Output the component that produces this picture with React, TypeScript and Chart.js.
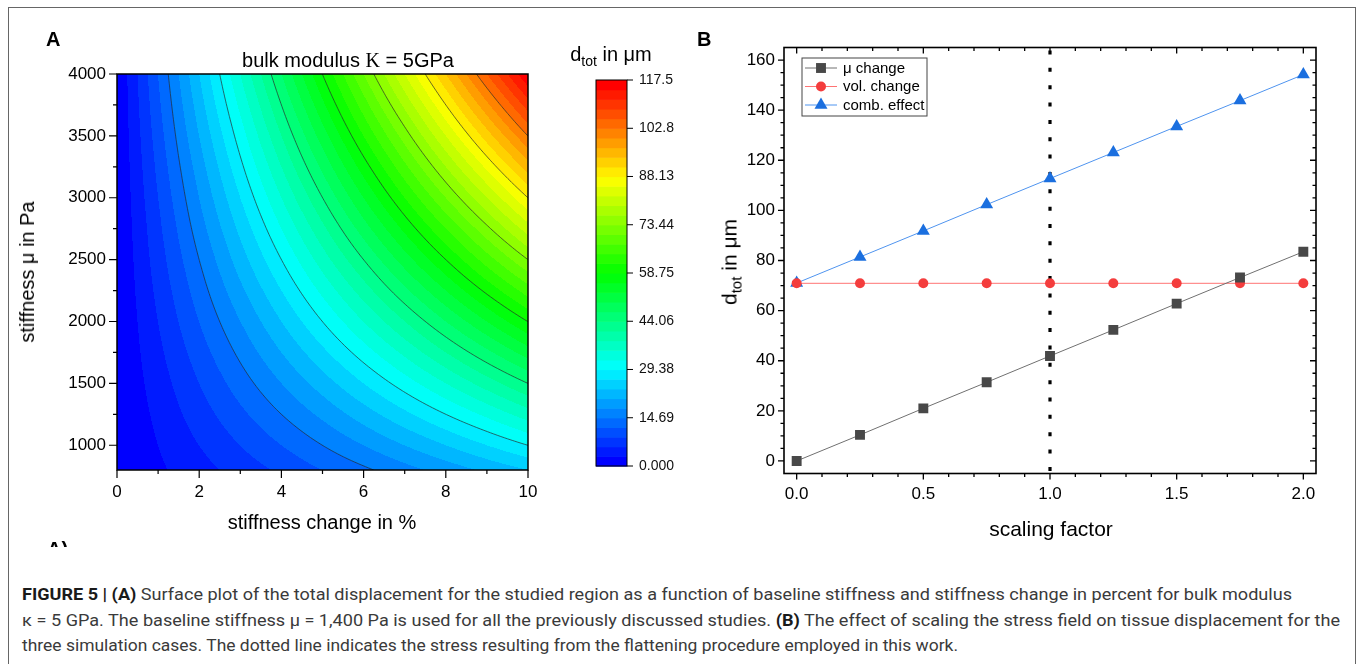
import React, { useEffect, useRef } from "react";
import { Chart, registerables } from "chart.js";

Chart.register(...registerables);

const FONT = "'Liberation Sans', Arial, Helvetica, sans-serif";
Chart.defaults.font.family = FONT;
Chart.defaults.color = "#000";

// ---------------- Panel A: d_tot (µm) ----------------
const stiffnessChangePct = [0, 1, 2, 3, 4, 5, 6, 7, 8, 9, 10];
const baselineStiffnessPa = [800, 1200, 1600, 2000, 2400, 2800, 3200, 3600, 4000];
const dTotAt800 = [0, 2.4, 4.7, 7.1, 9.4, 11.8, 14.1, 16.5, 18.8, 21.2, 23.5];
const dTotAt1200 = [0, 3.5, 7.1, 10.6, 14.1, 17.6, 21.2, 24.7, 28.2, 31.7, 35.3];
const dTotAt1600 = [0, 4.7, 9.4, 14.1, 18.8, 23.5, 28.2, 32.9, 37.6, 42.3, 47.0];
const dTotAt2000 = [0, 5.9, 11.8, 17.6, 23.5, 29.4, 35.3, 41.1, 47.0, 52.9, 58.8];
const dTotAt2400 = [0, 7.1, 14.1, 21.2, 28.2, 35.3, 42.3, 49.4, 56.4, 63.5, 70.5];
const dTotAt2800 = [0, 8.2, 16.5, 24.7, 32.9, 41.1, 49.4, 57.6, 65.8, 74.0, 82.3];
const dTotAt3200 = [0, 9.4, 18.8, 28.2, 37.6, 47.0, 56.4, 65.8, 75.2, 84.6, 94.0];
const dTotAt3600 = [0, 10.6, 21.2, 31.7, 42.3, 52.9, 63.5, 74.0, 84.6, 95.2, 105.8];
const dTotAt4000 = [0, 11.8, 23.5, 35.3, 47.0, 58.8, 70.5, 82.3, 94.0, 105.8, 117.5];
const dTotGrid = [dTotAt800, dTotAt1200, dTotAt1600, dTotAt2000, dTotAt2400, dTotAt2800, dTotAt3200, dTotAt3600, dTotAt4000];

const contourLevels = [14.69, 29.38, 44.06, 58.75, 73.44, 88.13, 102.8];
const colorMin = 0;
const colorMax = 117.5;
const colorBands = 40;
const colorbarTicks = [0, 14.69, 29.38, 44.06, 58.75, 73.44, 88.13, 102.8, 117.5];
const colorbarTickLabels = ["0.000", "14.69", "29.38", "44.06", "58.75", "73.44", "88.13", "102.8", "117.5"];

const aXTicks = [0, 2, 4, 6, 8, 10];
const aXMinorTicks = [1, 3, 5, 7, 9];
const aYTicks = [1000, 1500, 2000, 2500, 3000, 3500, 4000];
const aYMinorTicks = [1250, 1750, 2250, 2750, 3250, 3750];

// ---------------- Panel B ----------------
const scalingFactor = [0, 0.25, 0.5, 0.75, 1.0, 1.25, 1.5, 1.75, 2.0];
const muChange = [0, 10.4, 21.0, 31.4, 41.9, 52.3, 62.8, 73.2, 83.5];
const volChange = [70.9, 70.9, 70.9, 70.9, 70.9, 70.9, 70.9, 70.9, 70.9];
const combEffect = [71.0, 81.4, 91.8, 102.3, 112.7, 123.1, 133.5, 143.8, 154.2];
const bXTicks = [0, 0.5, 1.0, 1.5, 2.0];
const bXTickLabels = ["0.0", "0.5", "1.0", "1.5", "2.0"];
const bYTicks = [0, 20, 40, 60, 80, 100, 120, 140, 160];
const flatteningScale = 1.0;

// ---------------- helpers ----------------
function hueToRgb(h: number): [number, number, number] {
  const hp = h / 60;
  const x = 1 - Math.abs((hp % 2) - 1);
  let r = 0, g = 0, b = 0;
  if (hp < 1) { r = 1; g = x; }
  else if (hp < 2) { r = x; g = 1; }
  else if (hp < 3) { g = 1; b = x; }
  else if (hp < 4) { g = x; b = 1; }
  else if (hp < 5) { r = x; b = 1; }
  else { r = 1; b = x; }
  return [Math.round(r * 255), Math.round(g * 255), Math.round(b * 255)];
}
const palette = Array.from({ length: colorBands }, (_, k) => hueToRgb(240 * (1 - k / (colorBands - 1))));
const bandStep = (colorMax - colorMin) / colorBands;
function bandIndex(v: number) {
  return Math.max(0, Math.min(colorBands - 1, Math.floor((v - colorMin) / bandStep)));
}

function locate(arr: number[], v: number) {
  let i = 0;
  while (i < arr.length - 2 && v > arr[i + 1]) i++;
  const t = (v - arr[i]) / (arr[i + 1] - arr[i]);
  return [i, Math.max(0, Math.min(1, t))] as [number, number];
}
function sampleGrid(s: number, mu: number) {
  const [i, tx] = locate(stiffnessChangePct, s);
  const [j, ty] = locate(baselineStiffnessPa, mu);
  const a = dTotGrid[j][i], b = dTotGrid[j][i + 1], c = dTotGrid[j + 1][i], d = dTotGrid[j + 1][i + 1];
  return (a * (1 - tx) + b * tx) * (1 - ty) + (c * (1 - tx) + d * tx) * ty;
}

const heatmapPlugin = {
  id: "heatmap",
  beforeDatasetsDraw(chart: any) {
    const { ctx, chartArea: ca, scales } = chart;
    const xs = scales.x, ys = scales.y;
    const w = Math.round(ca.right - ca.left), h = Math.round(ca.bottom - ca.top);
    const off = document.createElement("canvas");
    off.width = w; off.height = h;
    const octx = off.getContext("2d")!;
    const img = octx.createImageData(w, h);
    for (let py = 0; py < h; py++) {
      const mu = ys.getValueForPixel(ca.top + py + 0.5);
      for (let px = 0; px < w; px++) {
        const s = xs.getValueForPixel(ca.left + px + 0.5);
        const col = palette[bandIndex(sampleGrid(s, mu))];
        const o = (py * w + px) * 4;
        img.data[o] = col[0]; img.data[o + 1] = col[1]; img.data[o + 2] = col[2]; img.data[o + 3] = 255;
      }
    }
    octx.putImageData(img, 0, 0);
    ctx.save();
    ctx.drawImage(off, ca.left, ca.top, w, h);
    // contour lines (marching squares on a fine resampling of the grid)
    const NX = 121, NY = 121;
    const x0 = xs.min, x1 = xs.max, y0 = ys.min, y1 = ys.max;
    const sv: number[][] = [];
    const spx: number[] = [], spy: number[] = [];
    for (let i = 0; i <= NX; i++) spx.push(x0 + (x1 - x0) * i / NX);
    for (let j = 0; j <= NY; j++) spy.push(y0 + (y1 - y0) * j / NY);
    for (let j = 0; j <= NY; j++) { sv.push([]); for (let i = 0; i <= NX; i++) sv[j].push(sampleGrid(spx[i], spy[j])); }
    ctx.beginPath();
    ctx.rect(ca.left, ca.top, ca.right - ca.left, ca.bottom - ca.top);
    ctx.clip();
    ctx.strokeStyle = "rgba(40,40,40,0.85)";
    ctx.lineWidth = 0.8;
    ctx.lineJoin = "round";
    for (const L of contourLevels) {
      ctx.beginPath();
      for (let j = 0; j < NY; j++) {
        for (let i = 0; i < NX; i++) {
          const corners = [
            [spx[i], spy[j], sv[j][i]],
            [spx[i + 1], spy[j], sv[j][i + 1]],
            [spx[i + 1], spy[j + 1], sv[j + 1][i + 1]],
            [spx[i], spy[j + 1], sv[j + 1][i]],
          ];
          const pts: [number, number][] = [];
          for (let e = 0; e < 4; e++) {
            const A = corners[e], B = corners[(e + 1) % 4];
            if ((A[2] >= L) !== (B[2] >= L)) {
              const t = (L - A[2]) / (B[2] - A[2]);
              pts.push([xs.getPixelForValue(A[0] + (B[0] - A[0]) * t), ys.getPixelForValue(A[1] + (B[1] - A[1]) * t)]);
            }
          }
          if (pts.length >= 2) { ctx.moveTo(pts[0][0], pts[0][1]); ctx.lineTo(pts[1][0], pts[1][1]); }
          if (pts.length === 4) { ctx.moveTo(pts[2][0], pts[2][1]); ctx.lineTo(pts[3][0], pts[3][1]); }
        }
      }
      ctx.stroke();
    }
    ctx.restore();
  },
};

const frameA = {
  id: "frameA",
  afterDraw(chart: any) {
    const { ctx, chartArea: ca, scales } = chart;
    ctx.save();
    ctx.strokeStyle = "#000";
    ctx.lineWidth = 1.5;
    ctx.strokeRect(ca.left, ca.top, ca.right - ca.left, ca.bottom - ca.top);
    ctx.lineWidth = 1.2;
    ctx.beginPath();
    aYTicks.forEach((v) => { const y = scales.y.getPixelForValue(v); ctx.moveTo(ca.left - 8, y); ctx.lineTo(ca.left, y); });
    aYMinorTicks.forEach((v) => { const y = scales.y.getPixelForValue(v); ctx.moveTo(ca.left - 4, y); ctx.lineTo(ca.left, y); });
    aXTicks.forEach((v) => { const x = scales.x.getPixelForValue(v); ctx.moveTo(x, ca.bottom); ctx.lineTo(x, ca.bottom + 8); });
    aXMinorTicks.forEach((v) => { const x = scales.x.getPixelForValue(v); ctx.moveTo(x, ca.bottom); ctx.lineTo(x, ca.bottom + 4); });
    ctx.stroke();
    ctx.restore();
  },
};

const colorbarPlugin = {
  id: "colorbar",
  beforeDatasetsDraw(chart: any) {
    const { ctx, chartArea: ca, scales } = chart;
    const ys = scales.y;
    ctx.save();
    for (let k = 0; k < colorBands; k++) {
      const yb = ys.getPixelForValue(colorMin + k * bandStep);
      const yt = ys.getPixelForValue(colorMin + (k + 1) * bandStep);
      const c = palette[k];
      ctx.fillStyle = `rgb(${c[0]},${c[1]},${c[2]})`;
      ctx.fillRect(ca.left, yt, ca.right - ca.left, yb - yt + 0.6);
    }
    ctx.strokeStyle = "#000";
    ctx.lineWidth = 1;
    ctx.strokeRect(ca.left, ca.top, ca.right - ca.left, ca.bottom - ca.top);
    ctx.beginPath();
    colorbarTicks.forEach((v) => { const y = ys.getPixelForValue(v); ctx.moveTo(ca.right, y); ctx.lineTo(ca.right + 6, y); });
    ctx.stroke();
    ctx.restore();
  },
};

const bMinorY: number[] = [];
for (let v = 5; v < 165; v += 5) if (v % 20 !== 0) bMinorY.push(v);
const bMinorX: number[] = [];
for (let k = 1; k < 20; k++) if (k % 5 !== 0) bMinorX.push(k / 10);

const frameB = {
  id: "frameB",
  beforeDatasetsDraw(chart: any) {
    const { ctx, chartArea: ca, scales } = chart;
    const x = scales.x.getPixelForValue(flatteningScale);
    ctx.save();
    ctx.strokeStyle = "#000";
    ctx.lineWidth = 3.2;
    ctx.setLineDash([4, 13.35]);
    ctx.beginPath();
    ctx.moveTo(x, ca.top + 3);
    ctx.lineTo(x, ca.bottom);
    ctx.stroke();
    ctx.restore();
  },
  afterDraw(chart: any) {
    const { ctx, chartArea: ca, scales } = chart;
    ctx.save();
    ctx.strokeStyle = "#000";
    ctx.lineWidth = 1.6;
    ctx.strokeRect(ca.left, ca.top, ca.right - ca.left, ca.bottom - ca.top);
    ctx.lineWidth = 1.3;
    ctx.beginPath();
    bYTicks.forEach((v) => {
      const y = scales.y.getPixelForValue(v);
      ctx.moveTo(ca.left - 6, y); ctx.lineTo(ca.left, y);
      ctx.moveTo(ca.right - 6, y); ctx.lineTo(ca.right, y);
    });
    bMinorY.forEach((v) => {
      const y = scales.y.getPixelForValue(v);
      ctx.moveTo(ca.left - 3.5, y); ctx.lineTo(ca.left, y);
      ctx.moveTo(ca.right - 3.5, y); ctx.lineTo(ca.right, y);
    });
    bXTicks.forEach((v) => {
      const x = scales.x.getPixelForValue(v);
      ctx.moveTo(x, ca.bottom); ctx.lineTo(x, ca.bottom + 6);
      ctx.moveTo(x, ca.top); ctx.lineTo(x, ca.top + 6);
    });
    bMinorX.forEach((v) => {
      const x = scales.x.getPixelForValue(v);
      ctx.moveTo(x, ca.bottom); ctx.lineTo(x, ca.bottom + 3.5);
      ctx.moveTo(x, ca.top); ctx.lineTo(x, ca.top + 3.5);
    });
    ctx.stroke();

    // legend
    const bx = ca.left + 18, by = ca.top + 10.5, bw = 125, bh = 58;
    ctx.fillStyle = "#fff";
    ctx.fillRect(bx, by, bw, bh);
    ctx.strokeStyle = "#444";
    ctx.lineWidth = 1;
    ctx.strokeRect(bx, by, bw, bh);
    ctx.font = `15px ${FONT}`;
    ctx.textBaseline = "middle";
    chart.data.datasets.forEach((ds: any, i: number) => {
      const cy = by + 10 + i * 18.5;
      ctx.strokeStyle = ds.borderColor;
      ctx.lineWidth = 1;
      ctx.beginPath();
      ctx.moveTo(bx + 3, cy); ctx.lineTo(bx + 35, cy);
      ctx.stroke();
      const mx = bx + 19, r = ds.pointRadius;
      ctx.fillStyle = ds.pointBackgroundColor;
      ctx.beginPath();
      if (ds.pointStyle === "rect") {
        const s = r * Math.SQRT1_2;
        ctx.rect(mx - s, cy - s, 2 * s, 2 * s);
      } else if (ds.pointStyle === "circle") {
        ctx.arc(mx, cy, r, 0, Math.PI * 2);
      } else {
        let a = 0;
        ctx.moveTo(mx + Math.sin(a) * r, cy - Math.cos(a) * r);
        a += (2 * Math.PI) / 3; ctx.lineTo(mx + Math.sin(a) * r, cy - Math.cos(a) * r);
        a += (2 * Math.PI) / 3; ctx.lineTo(mx + Math.sin(a) * r, cy - Math.cos(a) * r);
        ctx.closePath();
      }
      ctx.fill();
      ctx.fillStyle = "#000";
      ctx.fillText(ds.label, bx + 41, cy + 0.5);
    });
    ctx.restore();
  },
};

const tickGrid = (len: number) => ({
  drawOnChartArea: false,
  drawTicks: true,
  tickLength: len,
  color: "rgba(0,0,0,0)",
});

// ---------------- caption ----------------
const captionLine1 = [
  { t: "FIGURE 5 | (A)", b: true },
  { t: " Surface plot of the total displacement for the studied region as a function of baseline stiffness and stiffness change in percent for bulk modulus", b: false },
];
const captionLine2 = [
  { t: "κ = 5 GPa. The baseline stiffness μ = 1,400 Pa is used for all the previously discussed studies. ", b: false },
  { t: "(B)", b: true },
  { t: " The effect of scaling the stress field on tissue displacement for the", b: false },
];
const captionLine3 = [
  { t: "three simulation cases. The dotted line indicates the stress resulting from the flattening procedure employed in this work.", b: false },
];
const captionLines = [captionLine1, captionLine2, captionLine3];
const captionWidths = [1270, 1318, 936];
const captionCenters = [594, 620, 645];

export default function App() {
  const refA = useRef<HTMLCanvasElement>(null);
  const refC = useRef<HTMLCanvasElement>(null);
  const refB = useRef<HTMLCanvasElement>(null);
  const capRefs = useRef<(HTMLDivElement | null)[]>([]);

  useEffect(() => {
    const chartA = new Chart(refA.current!, {
      type: "scatter",
      data: { datasets: [{ data: [] }] },
      options: {
        animation: false,
        responsive: false,
        events: [],
        layout: { padding: { left: 0, top: 74, right: 42, bottom: 0 } },
        plugins: { legend: { display: false }, tooltip: { enabled: false } },
        scales: {
          x: {
            type: "linear", min: 0, max: 10,
            afterFit: (s: any) => { s.height = 70; },
            afterBuildTicks: (s: any) => { s.ticks = aXTicks.map((v) => ({ value: v })); },
            ticks: { autoSkip: false, maxRotation: 0, padding: 4, color: "#000", font: { size: 17 }, callback: (v: any) => String(v) },
            grid: tickGrid(8), border: { display: false },
          },
          y: {
            type: "linear", min: 800, max: 4000,
            afterFit: (s: any) => { s.width = 117; },
            afterBuildTicks: (s: any) => { s.ticks = aYTicks.map((v) => ({ value: v })); },
            ticks: { autoSkip: false, padding: 3, color: "#000", font: { size: 17 }, callback: (v: any) => String(v) },
            grid: tickGrid(8), border: { display: false },
          },
        },
      } as any,
      plugins: [heatmapPlugin, frameA],
    });

    const chartC = new Chart(refC.current!, {
      type: "scatter",
      data: { datasets: [{ data: [] }] },
      options: {
        animation: false,
        responsive: false,
        events: [],
        layout: { padding: { left: 16, top: 20, right: 0, bottom: 24 } },
        plugins: { legend: { display: false }, tooltip: { enabled: false } },
        scales: {
          x: { type: "linear", display: false, min: 0, max: 1 },
          y: {
            type: "linear", position: "right", min: colorMin, max: colorMax,
            afterFit: (s: any) => { s.width = 73; },
            afterBuildTicks: (s: any) => { s.ticks = colorbarTicks.map((v) => ({ value: v })); },
            ticks: { autoSkip: false, padding: 6, color: "#111", font: { size: 14 }, callback: (_v: any, i: number) => colorbarTickLabels[i] },
            grid: tickGrid(6), border: { display: false },
          },
        },
      } as any,
      plugins: [colorbarPlugin],
    });

    const toPts = (ys: number[]) => scalingFactor.map((x, i) => ({ x, y: ys[i] }));
    const chartB = new Chart(refB.current!, {
      type: "scatter",
      data: {
        datasets: [
          { label: "μ change", data: toPts(muChange), showLine: true, borderColor: "#707070", borderWidth: 1, pointStyle: "rect", pointRadius: 7, pointBackgroundColor: "#484848", pointBorderColor: "#484848", pointBorderWidth: 0 },
          { label: "vol. change", data: toPts(volChange), showLine: true, borderColor: "#ff7373", borderWidth: 1, pointStyle: "circle", pointRadius: 5, pointBackgroundColor: "#f43d3d", pointBorderColor: "#f43d3d", pointBorderWidth: 0 },
          { label: "comb. effect", data: toPts(combEffect), showLine: true, borderColor: "#4f94ef", borderWidth: 1, pointStyle: "triangle", pointRadius: 7.5, pointBackgroundColor: "#1b6fdf", pointBorderColor: "#1b6fdf", pointBorderWidth: 0 },
        ],
      },
      options: {
        animation: false,
        responsive: false,
        events: [],
        layout: { padding: { left: 0, top: 27.5, right: 24, bottom: 0 } },
        plugins: { legend: { display: false }, tooltip: { enabled: false } },
        scales: {
          x: {
            type: "linear", min: -0.05, max: 2.05,
            afterFit: (s: any) => { s.height = 66.5; },
            afterBuildTicks: (s: any) => { s.ticks = bXTicks.map((v) => ({ value: v })); },
            ticks: { autoSkip: false, maxRotation: 0, padding: 5, color: "#000", font: { size: 17 }, callback: (_v: any, i: number) => bXTickLabels[i] },
            grid: tickGrid(6), border: { display: false },
          },
          y: {
            type: "linear", min: -5, max: 165,
            afterFit: (s: any) => { s.width = 94; },
            afterBuildTicks: (s: any) => { s.ticks = bYTicks.map((v) => ({ value: v })); },
            ticks: { autoSkip: false, padding: 3, color: "#000", font: { size: 17 }, callback: (v: any) => String(v) },
            grid: tickGrid(6), border: { display: false },
          },
        },
      } as any,
      plugins: [frameB],
    });

    const fit = () => {
      capRefs.current.forEach((el, i) => {
        if (!el) return;
        el.style.transform = "none";
        const w = el.getBoundingClientRect().width;
        if (w > 0) el.style.transform = `translateY(-50%) scaleX(${captionWidths[i] / w})`;
      });
    };
    fit();
    (document as any).fonts?.ready?.then(fit);

    return () => { chartA.destroy(); chartC.destroy(); chartB.destroy(); };
  }, []);

  const abs = (extra: React.CSSProperties): React.CSSProperties => ({ position: "absolute", whiteSpace: "nowrap", ...extra });
  const centered = (x: number, y: number, rot = false): React.CSSProperties =>
    abs({ left: x, top: y, transform: `translate(-50%,-50%)${rot ? " rotate(-90deg)" : ""}`, lineHeight: 1 });

  return (
    <div style={{ position: "absolute", left: 0, top: 0, width: 1360, height: 664, background: "#fff", overflow: "hidden", fontFamily: FONT, color: "#000" }}>
      <div style={{ position: "absolute", left: 8, top: 7, width: 1346, height: 700, border: "1.5px solid #666" }} />

      <canvas ref={refA} width={570} height={540} style={{ position: "absolute", left: 0, top: 0, width: 570, height: 540 }} />
      <canvas ref={refC} width={120} height={430} style={{ position: "absolute", left: 580, top: 60, width: 120, height: 430 }} />
      <canvas ref={refB} width={650} height={520} style={{ position: "absolute", left: 690, top: 20, width: 650, height: 520 }} />

      <div style={abs({ left: 46, top: 29, fontSize: 20, fontWeight: 700, lineHeight: 1 })}>A</div>
      <div style={abs({ left: 697, top: 29, fontSize: 20, fontWeight: 700, lineHeight: 1 })}>B</div>

      <div style={centered(348, 60)}>
        <span style={{ fontSize: 20 }}>bulk modulus </span>
        <span style={{ fontSize: 20, fontFamily: "'Liberation Serif', 'Times New Roman', serif" }}>K</span>
        <span style={{ fontSize: 20 }}> = 5GPa</span>
      </div>
      <div style={{ ...centered(27, 272, true), fontSize: 20 }}>stiffness μ in Pa</div>
      <div style={{ ...centered(322, 522), fontSize: 20 }}>stiffness change in %</div>

      <div style={{ ...centered(611, 54), fontSize: 20 }}>
        d<span style={{ fontSize: 14, position: "relative", top: 5 }}>tot</span> in μm
      </div>

      <div style={{ ...centered(729, 262, true), fontSize: 21 }}>
        d<span style={{ fontSize: 15, position: "relative", top: 5 }}>tot</span> in μm
      </div>
      <div style={{ ...centered(1051, 528), fontSize: 21 }}>scaling factor</div>

      <div style={abs({ left: 47, top: 539, height: 8, overflow: "hidden" })}>
        <div style={{ fontSize: 20, fontWeight: 700, lineHeight: "20px" }}>A)</div>
      </div>

      {captionLines.map((parts, li) => (
        <div
          key={li}
          ref={(el) => { capRefs.current[li] = el; }}
          style={abs({
            left: 22, top: captionCenters[li], display: "inline-block", transformOrigin: "0 0",
            fontFamily: "'Liberation Sans Narrow', 'Roboto', 'Liberation Sans', sans-serif",
            fontSize: 17, lineHeight: "20px", color: "#3a3a3a", transform: "translateY(-50%)",
          })}
        >
          {parts.map((p, k) => (
            <span key={k} style={p.b ? { fontWeight: 700, color: "#1a1a1a" } : undefined}>{p.t}</span>
          ))}
        </div>
      ))}
    </div>
  );
}
